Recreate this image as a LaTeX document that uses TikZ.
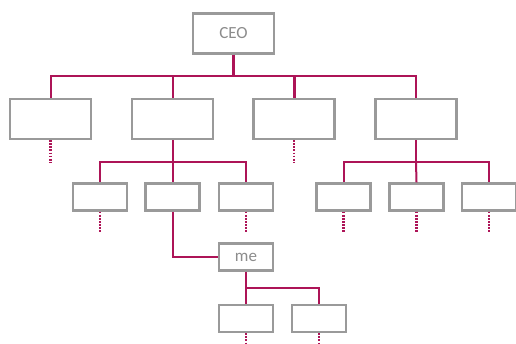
\documentclass[tikz,border=0pt]{standalone}
\usepackage{fontspec}
\setmainfont{Carlito}
\definecolor{boxgray}{HTML}{9A9A9A}
\definecolor{txtgray}{HTML}{8C8C8C}
\definecolor{linkred}{HTML}{AD1457}
\tikzset{
  unit/.style={draw=boxgray, line width=2.4pt, fill=white, inner sep=0pt,
    text=txtgray, font=\fontsize{17}{20}\selectfont},
  bigbox/.style={unit, minimum width=81pt, minimum height=40pt},
  smallbox/.style={unit, minimum width=54pt, minimum height=27pt},
  link/.style={draw=linkred, line width=2pt},
  trunk/.style={draw=linkred, line width=3pt},
  more/.style={draw=linkred, line width=2.4pt, dash pattern=on 1.8pt off 1.3pt}
}
\begin{document}
\begin{tikzpicture}[x=1pt, y=-1pt]
\useasboundingbox (0,0) rectangle (516,344);
\clip (0,0) rectangle (516,344);
\fill[white] (0,0) rectangle (516,344);

% top of the chart
\node[bigbox] (ceo) at (233.5,33.5) {CEO};
\node[bigbox] (d1) at (50.5,119) {};
\node[bigbox] (d2) at (172.5,119) {};
\node[bigbox] (d3) at (294,119) {};
\node[bigbox] (d4) at (416,119) {};

% second level
\node[smallbox] (a1) at (100,197) {};
\node[smallbox] (a2) at (172.5,197) {};
\node[smallbox] (a3) at (246,197) {};
\node[smallbox] (b1) at (343.5,197) {};
\node[smallbox] (b2) at (416.5,197) {};
\node[smallbox] (b3) at (489,197) {};

% own position and reports
\node[smallbox] (me) at (246,257) {me};
\node[smallbox] (m1) at (246,318.5) {};
\node[smallbox] (m2) at (319,318.5) {};

% reporting lines
\coordinate (busA) at (0,76);
\coordinate (busB) at (0,162);
\coordinate (busC) at (0,288);

\draw[trunk] (ceo.south) -- (ceo.south |- busA);
\draw[link] (ceo.south |- busA) -| (d1.north);
\draw[link] (ceo.south |- busA) -| (d2.north);
\draw[link] (ceo.south |- busA) -| (d4.north);
\draw[trunk] (d3.north |- busA) -- (d3.north);

\draw[link] (d2.south) -- (d2.south |- busB) -| (a1.north);
\draw[link] (d2.south |- busB) -- (a2.north);
\draw[link] (d2.south |- busB) -| (a3.north);

\draw[link] (d4.south) -- (d4.south |- busB) -| (b1.north);
\draw[link] (d4.south |- busB) -- (b2.north);
\draw[link] (d4.south |- busB) -| (b3.north);

\draw[link] (a2.south) |- (me.west);

\draw[link] (me.south) -- (me.south |- busC) -| (m2.north);
\draw[link] (me.south |- busC) -- (m1.north);

% continuation marks
\coordinate (endA) at (0,163);
\coordinate (endB) at (0,233);
\coordinate (endC) at (0,346);
\foreach \n in {d1,d3} \draw[more] (\n.south) -- (\n.south |- endA);
\foreach \n in {a1,a3,b1,b2,b3} \draw[more] (\n.south) -- (\n.south |- endB);
\foreach \n in {m1,m2} \draw[more] (\n.south) -- (\n.south |- endC);
\end{tikzpicture}
\end{document}
